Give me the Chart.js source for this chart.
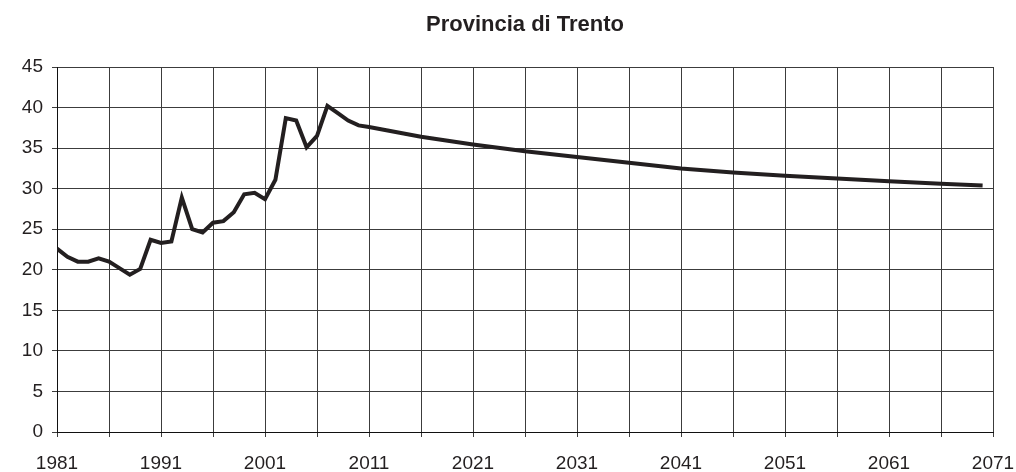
<!DOCTYPE html>
<html>
<head>
<meta charset="utf-8">
<title>Provincia di Trento</title>
<script src="https://cdn.jsdelivr.net/npm/chart.js@4.4.1/dist/chart.umd.min.js"></script>
<style>
    html, body { margin: 0; padding: 0; background: #fff; }
    #wrap { width: 1016px; height: 472px; }
</style>
</head>
<body>
<div id="wrap"><canvas id="trentoChart" width="1016" height="472"></canvas></div>
<script>
const chartTitle = 'Provincia di Trento';

// years (yearly to 2011, then at each grid line)
const years = [
    1981, 1982, 1983, 1984, 1985, 1986, 1987, 1988, 1989, 1990,
    1991, 1992, 1993, 1994, 1995, 1996, 1997, 1998, 1999, 2000,
    2001, 2002, 2003, 2004, 2005, 2006, 2007, 2008, 2009, 2010,
    2011, 2016, 2021, 2026, 2031, 2036, 2041, 2046, 2051, 2056,
    2061, 2066, 2070
];
const values = [
    22.6, 21.6, 21.0, 21.0, 21.4, 21.0, 20.2, 19.4, 20.1, 23.7,
    23.3, 23.5, 28.9, 25.0, 24.6, 25.8, 26.0, 27.1, 29.3, 29.5,
    28.7, 31.1, 38.7, 38.4, 35.1, 36.5, 40.2, 39.3, 38.4, 37.8,
    37.6, 36.4, 35.45, 34.6, 33.9, 33.2, 32.5, 32.0, 31.6, 31.25,
    30.9, 30.6, 30.4
];

const xMin = 1981, xMax = 2071, xStep = 5, xLabelEvery = 10;
const yMin = 0, yMax = 45, yStep = 5;

const fontFamily = '"Liberation Sans", Arial, Helvetica, sans-serif';
const inkColor = '#231f20';

// title centred over the plot area, like the original
const titlePlugin = {
    id: 'plotTitle',
    afterDraw(chart) {
        const { ctx, chartArea } = chart;
        ctx.save();
        ctx.font = 'bold 22px ' + fontFamily;
        ctx.fillStyle = inkColor;
        ctx.textAlign = 'center';
        ctx.textBaseline = 'alphabetic';
        ctx.fillText(chartTitle, (chartArea.left + chartArea.right) / 2, 31);
        ctx.restore();
    }
};

const ctx = document.getElementById('trentoChart').getContext('2d');
new Chart(ctx, {
    type: 'line',
    data: {
        datasets: [{
            data: years.map((y, i) => ({ x: y, y: values[i] })),
            borderColor: inkColor,
            borderWidth: 4,
            pointRadius: 0,
            tension: 0,
            fill: false
        }]
    },
    options: {
        responsive: false,
        animation: false,
        layout: { padding: { top: 67, right: 23, left: 0, bottom: 0 } },
        plugins: {
            legend: { display: false },
            title: { display: false },
            tooltip: { enabled: false }
        },
        scales: {
            x: {
                type: 'linear',
                min: xMin,
                max: xMax,
                afterFit: (scale) => {
                    scale.height = 40;
                    scale.paddingLeft = 0;
                    scale.paddingRight = 0;
                },
                ticks: {
                    stepSize: xStep,
                    autoSkip: false,
                    maxRotation: 0,
                    padding: 15,
                    color: inkColor,
                    font: { family: fontFamily, size: 19 },
                    callback: (v) => ((v - xMin) % xLabelEvery === 0 ? String(v) : '')
                },
                grid: { color: '#3c3c3c', lineWidth: 1, tickLength: 5 },
                border: { color: '#111', width: 1 }
            },
            y: {
                min: yMin,
                max: yMax,
                afterFit: (scale) => { scale.width = 57; },
                ticks: {
                    stepSize: yStep,
                    padding: 9,
                    color: inkColor,
                    font: { family: fontFamily, size: 19 }
                },
                grid: { color: '#3c3c3c', lineWidth: 1, tickLength: 5 },
                border: { color: '#111', width: 1 }
            }
        }
    },
    plugins: [titlePlugin]
});
</script>
</body>
</html>
